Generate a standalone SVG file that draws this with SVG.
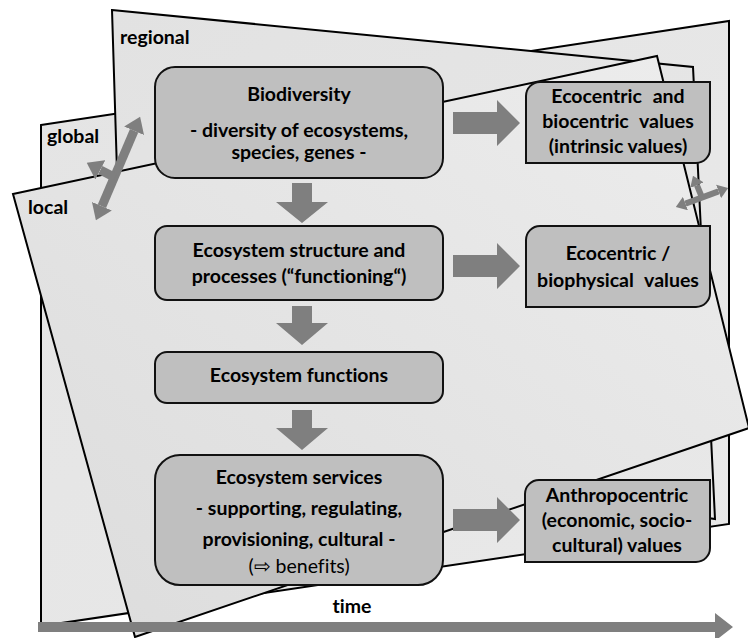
<svg xmlns="http://www.w3.org/2000/svg" width="748" height="638" viewBox="0 0 748 638">
  <defs>
    <linearGradient id="gGlobal" x1="0" y1="0" x2="1" y2="1">
      <stop offset="0" stop-color="#e4e4e4"/>
      <stop offset="1" stop-color="#e9e9e9"/>
    </linearGradient>
    <linearGradient id="gRegional" x1="0" y1="0" x2="1" y2="1">
      <stop offset="0" stop-color="#e2e2e2"/>
      <stop offset="1" stop-color="#e8e8e8"/>
    </linearGradient>
    <linearGradient id="gLocal" x1="0" y1="1" x2="1" y2="0">
      <stop offset="0" stop-color="#dcdcdc"/>
      <stop offset="1" stop-color="#ededed"/>
    </linearGradient>
    <marker id="head" viewBox="0 0 17 24" refX="0" refY="12" markerWidth="1.7" markerHeight="2.4" markerUnits="strokeWidth" orient="auto-start-reverse">
      <path d="M0,0 L17,12 L0,24 z" fill="#7f7f7f"/>
    </marker>
    <style>
      .plane { stroke: #000; stroke-width: 2; stroke-linejoin: miter; }
      .box { fill: #bfbfbf; stroke: #111; stroke-width: 2; }
      .arrow { fill: #7f7f7f; stroke: none; }
      .scale { stroke: #7f7f7f; fill: none; }
      text { font-family: Lato, "Liberation Sans", Arial, sans-serif; font-size: 19.5px; fill: #000; font-variant-ligatures: none; }
      .b { font-weight: bold; }
      .c { text-anchor: middle; }
    </style>
  </defs>

  <!-- spatial scale planes, back to front -->
  <g id="plane-global">
    <polygon class="plane" fill="url(#gGlobal)" points="41,125 729,21 729,524 41,626"/>
    <text class="b" x="47" y="143">global</text>
  </g>
  <g id="plane-regional">
    <polygon class="plane" fill="url(#gRegional)" points="112,10 693,67 715,519 125,430"/>
    <text class="b" x="120" y="44">regional</text>
  </g>
  <g id="plane-local">
    <polygon class="plane" fill="url(#gLocal)" points="13,194 657,56 749,428 135,637"/>
    <text class="b" x="28" y="214">local</text>
  </g>

  <!-- cascade boxes -->
  <g id="biodiversity">
    <rect class="box" x="155" y="67" width="288" height="111" rx="20"/>
    <text class="b c" x="299" y="101">Biodiversity</text>
    <text class="b c" x="299" y="137">- diversity of ecosystems,</text>
    <text class="b c" x="299" y="159">species, genes -</text>
  </g>
  <g id="structure">
    <rect class="box" x="155" y="226" width="288" height="74" rx="12"/>
    <text class="b c" x="299" y="257">Ecosystem structure and</text>
    <text class="b c" x="299" y="283">processes (“functioning“)</text>
  </g>
  <g id="functions">
    <rect class="box" x="155" y="352" width="288" height="51" rx="12"/>
    <text class="b c" x="299" y="382">Ecosystem functions</text>
  </g>
  <g id="services">
    <rect class="box" x="155" y="455" width="288" height="130" rx="25"/>
    <text class="b c" x="299" y="484">Ecosystem services</text>
    <text class="b c" x="299" y="515">- supporting, regulating,</text>
    <text class="b c" x="299" y="546">provisioning, cultural -</text>
    <text class="c" x="299" y="573">(⇨ benefits)</text>
  </g>

  <!-- value boxes -->
  <g id="intrinsic-values">
    <path class="box" d="M540,82 H710 V149 A14,14 0 0 1 696,163 H526 V96 A14,14 0 0 1 540,82 Z"/>
    <text class="b c" x="618" y="103" word-spacing="6">Ecocentric and</text>
    <text class="b c" x="618" y="128" word-spacing="6">biocentric values</text>
    <text class="b c" x="618" y="153">(intrinsic values)</text>
  </g>
  <g id="biophysical-values">
    <path class="box" d="M540,226 H710 V293 A14,14 0 0 1 696,307 H526 V240 A14,14 0 0 1 540,226 Z"/>
    <text class="b c" x="618" y="260">Ecocentric /</text>
    <text class="b c" x="618" y="287" word-spacing="6">biophysical values</text>
  </g>
  <g id="anthropocentric-values">
    <path class="box" d="M539,480 H710 V548 A14,14 0 0 1 696,562 H525 V494 A14,14 0 0 1 539,480 Z"/>
    <text class="b c" x="617" y="502">Anthropocentric</text>
    <text class="b c" x="617" y="527">(economic, socio-</text>
    <text class="b c" x="617" y="552">cultural) values</text>
  </g>

  <!-- connectors -->
  <g id="connectors">
    <polygon class="arrow" points="292,183 312,183 312,202 328,202 302,223 276,202 292,202"/>
    <polygon class="arrow" points="292,306 312,306 312,323 328,323 302,345 276,323 292,323"/>
    <polygon class="arrow" points="292,410 312,410 312,428 328,428 302,450 276,428 292,428"/>
    <polygon class="arrow" points="453,112 497,112 497,100 520,123 497,146 497,134 453,134"/>
    <polygon class="arrow" points="453,255 497,255 497,243 520,266 497,289 497,277 453,277"/>
    <polygon class="arrow" points="453,509 497,509 497,497 520,520 497,543 497,531 453,531"/>

    <!-- scale shift arrows -->
    <line class="scale" stroke-width="9" x1="101.9" y1="206.2" x2="134.1" y2="130.8" marker-start="url(#head)" marker-end="url(#head)"/>
    <line class="scale" stroke-width="9" x1="115" y1="177.5" x2="100.3" y2="169.9" marker-end="url(#head)"/>
    <line class="scale" stroke-width="6" x1="685.4" y1="203.6" x2="718.6" y2="191.4" marker-start="url(#head)" marker-end="url(#head)"/>
    <line class="scale" stroke-width="6" x1="702" y1="197.5" x2="696.9" y2="185.2" marker-end="url(#head)"/>

    <!-- time axis -->
    <polygon class="arrow" points="38,622 715,622 715,613 733,627 715,641 715,632 38,632"/>
  </g>
  <text class="b c" x="352" y="613">time</text>
</svg>
